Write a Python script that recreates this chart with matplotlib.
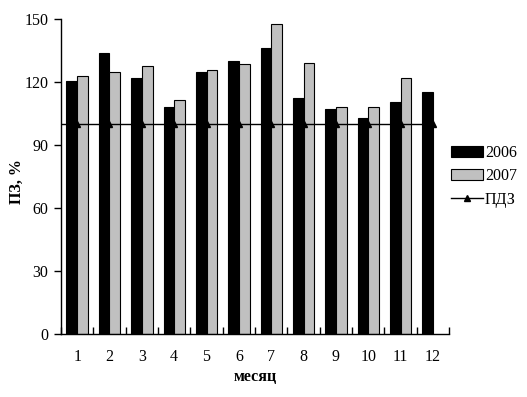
import matplotlib
matplotlib.use("Agg")
import matplotlib.pyplot as plt
import numpy as np

months = [1, 2, 3, 4, 5, 6, 7, 8, 9, 10, 11, 12]
v2006 = [120.5, 133.8, 121.9, 108.1, 124.8, 130.0, 136.2, 112.4, 107.1, 102.9, 110.5, 115.1]
v2007 = [122.7, 124.8, 127.5, 111.4, 125.6, 128.4, 147.5, 128.9, 108.0, 108.0, 121.8]
pdz = [100] * 12

plt.rcParams['font.family'] = ['Liberation Serif', 'DejaVu Serif']

fig = plt.figure(figsize=(5.27, 3.97), dpi=100)
ax = fig.add_axes([0.1157, 0.1587, 0.7365, 0.7935])

x = np.array(months)
w = 0.33
b1 = ax.bar(x - w / 2, v2006, width=w, color='black', edgecolor='black', linewidth=0.8, label='2006')
b2 = ax.bar(x[:len(v2007)] + w / 2, v2007, width=w, color='#c0c0c0', edgecolor='black', linewidth=0.8, label='2007')
ax.plot([0.5, x[0]], pdz[:2], color='black', linewidth=1)
l1, = ax.plot(x, pdz, color='black', linewidth=1, marker='^', markersize=4, label='ПДЗ')

ax.set_xlim(0.5, 12.5)
ax.set_ylim(0, 150)
ax.set_yticks([0, 30, 60, 90, 120, 150])
ax.set_xticks(x)
ax.set_xticks(np.arange(0.5, 12.6, 1), minor=True)
ax.tick_params(axis='x', which='major', length=0, pad=11, labelsize=11.5)
ax.tick_params(axis='x', which='minor', direction='in', length=5, width=1)
ax.tick_params(axis='y', direction='out', length=5, width=1, labelsize=11.5, pad=4)
for s in ['top', 'right']:
    ax.spines[s].set_visible(False)
for s in ['left', 'bottom']:
    ax.spines[s].set_linewidth(1)

ax.set_xlabel('месяц', fontweight='bold', fontsize=11.5, labelpad=3)
ax.set_ylabel('ПЗ, %', fontweight='bold', fontsize=11.5)
ax.yaxis.set_label_coords(-0.093, 0.485)

ax.legend([b1, b2, l1], ['2006', '2007', 'ПДЗ'], loc='center left', bbox_to_anchor=(1.0, 0.5),
          frameon=False, fontsize=11.5, handlelength=2.0, handletextpad=0.15,
          labelspacing=0.45, borderaxespad=0.0, borderpad=0.1)

fig.savefig('out.png', dpi=100)
